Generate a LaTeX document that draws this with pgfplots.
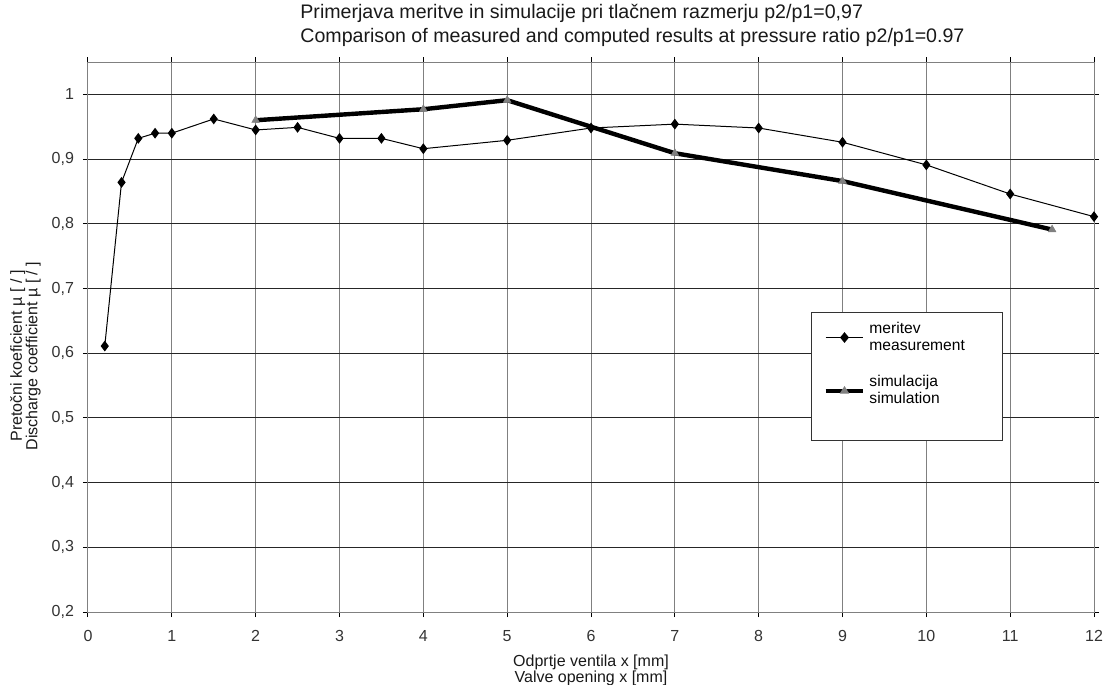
\documentclass[border=0pt]{standalone}
\usepackage{fontspec}
\setmainfont{Liberation Sans}
\usepackage{pgfplots}
\pgfplotsset{compat=1.18}
\begin{document}
\begin{tikzpicture}
\begin{axis}[
  at={(0,0)}, anchor=south west,
  scale only axis,
  width=503pt, height=275pt,
  xmin=0, xmax=12, ymin=0.2, ymax=1.05,
  xtick={0,1,...,12},
  ytick={0.2,0.3,0.4,0.5,0.6,0.7,0.8,0.9,1},
  yticklabels={{0,2},{0,3},{0,4},{0,5},{0,6},{0,7},{0,8},{0,9},{1}},
  tick align=outside,
  major tick length=2.5pt,
  tick style={black, line width=0.5pt},
  grid=major,
  x grid style={gray, line width=0.5pt},
  y grid style={black!85, line width=0.5pt},
  axis line style={gray, line width=0.5pt},
  every tick label/.append style={font=\fontsize{8}{9}\selectfont, text=black!80},
  /pgf/number format/assume math mode=true,
  xticklabel style={yshift=-3pt},
  yticklabel style={xshift=-1pt},
  legend style={at={(0.7187,0.545)}, anchor=north west, draw=black!80, line width=0.5pt,
    fill=white, font=\fontsize{7.8}{8.6}\selectfont,
    cells={align=left, anchor=west}, row sep=7pt, inner xsep=6pt, inner ysep=2.5pt},
  legend image post style={xscale=1.1},
]
\addplot[black, line width=0.5pt, mark=diamond*, mark size=2.3pt, mark options={solid, fill=black}]
coordinates {
(0.2,0.611) (0.4,0.864) (0.6,0.932) (0.8,0.940) (1,0.940) (1.5,0.962)
(2,0.945) (2.5,0.949) (3,0.932) (3.5,0.932) (4,0.916) (5,0.929)
(6,0.948) (7,0.954) (8,0.948) (9,0.926) (10,0.891) (11,0.846) (12,0.811)
};
\addlegendentry{meritev\\measurement\hspace*{11pt}}
\addplot[black, line width=2.2pt, mark=triangle*, mark size=2.2pt, mark options={solid, fill=gray, draw=gray, line width=0.3pt}]
coordinates {
(2,0.960) (4,0.977) (5,0.991) (7,0.909) (9,0.866) (11.5,0.791)
};
\addlegendentry{simulacija\\simulation}
\addlegendimage{empty legend}
\addlegendentry{}
\end{axis}
\node[anchor=west, align=left, inner xsep=0pt, font=\fontsize{9.8}{12}\selectfont, text=black!90] at (106pt,293.5pt)
  {Primerjava meritve in simulacije pri tlačnem razmerju p2/p1=0,97\\Comparison of measured and computed results at pressure ratio p2/p1=0.97};
\node[align=center, font=\fontsize{8}{7.7}\selectfont, text=black!90] at (251.5pt,-29.25pt)
  {Odprtje ventila x [mm]\\Valve opening x [mm]};
\node[align=center, rotate=90, font=\fontsize{8}{7.7}\selectfont, text=black!90] at (-31.25pt,128pt)
  {Pretočni koeficient µ [ / ]\\Discharge coefficient µ [ / ]};
\pgfresetboundingbox
\path (-44pt,-36pt) rectangle (509pt,306pt);
\end{tikzpicture}
\end{document}
